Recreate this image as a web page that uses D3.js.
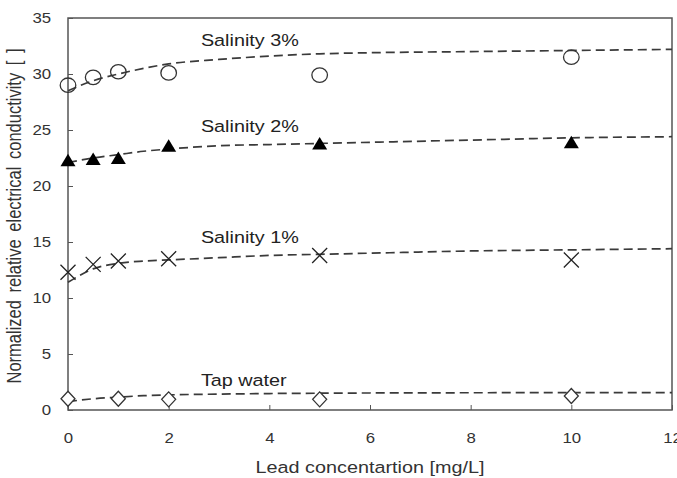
<!DOCTYPE html>
<html>
<head>
<meta charset="utf-8">
<title>Lead concentration</title>
<script src="https://cdn.jsdelivr.net/npm/d3@7"></script>
<style>
  body { margin: 0; background: #fff; }
  svg text { font-family: "Liberation Sans", Arial, sans-serif; }
</style>
</head>
<body>
<div id="chart"></div>
<script>
// measured points
var leadX = [0, 0.5, 1, 2, 5, 10];
var sal3 = [29.0, 29.7, 30.2, 30.1, 29.9, 31.5];
var sal2 = [22.3, 22.4, 22.5, 23.6, 23.8, 23.9];
var sal1 = [12.3, 13.0, 13.3, 13.5, 13.8, 13.4];
var tapX = [0, 1, 2, 5, 10];
var tap = [1.0, 1.0, 0.95, 0.95, 1.25];

// fitted curves
var fitX = [0, 0.5, 1, 1.5, 2, 3, 4, 5, 6, 8, 10, 12];
var fit3 = [28.5, 29.4, 30.0, 30.5, 30.9, 31.3, 31.6, 31.8, 31.9, 32.0, 32.1, 32.2];
var fit2 = [22.1, 22.5, 22.8, 23.1, 23.3, 23.6, 23.7, 23.8, 23.9, 24.1, 24.3, 24.4];
var fit1 = [11.4, 12.6, 13.1, 13.3, 13.4, 13.6, 13.8, 13.9, 14.0, 14.2, 14.3, 14.4];
var fitTap = [0.75, 1.0, 1.15, 1.28, 1.35, 1.42, 1.47, 1.5, 1.52, 1.54, 1.55, 1.56];

var xTicks = [0, 2, 4, 6, 8, 10, 12];
var yTicks = [0, 5, 10, 15, 20, 25, 30, 35];

var labels = [
  {text: "Salinity 3%", x: 2.64, y: 32.5},
  {text: "Salinity 2%", x: 2.64, y: 24.85},
  {text: "Salinity 1%", x: 2.64, y: 14.9},
  {text: "Tap water", x: 2.64, y: 2.1}
];

var W = 677, H = 478;
var m = {left: 68, right: 5, top: 18, bottom: 68};
var sx = 1.2; // the picture is stretched sideways

var svg = d3.select('#chart').append('svg').attr('width', W).attr('height', H);

var x = d3.scaleLinear().domain([0, 12]).range([m.left, W - m.right]);
var y = d3.scaleLinear().domain([0, 35]).range([H - m.bottom, m.top]);

// axes with inward ticks
svg.append('g').attr('transform', 'translate(0,' + (H - m.bottom) + ')')
  .call(d3.axisBottom(x).tickValues(xTicks).tickSizeInner(-5).tickSizeOuter(0).tickPadding(23))
  .call(function(g){
    g.select('.domain').remove();
    g.selectAll('line').attr('stroke', '#555');
    g.selectAll('text').attr('font-size', 14).attr('fill', '#333')
      .attr('transform', 'scale(' + sx + ',1)');
  });
svg.append('g').attr('transform', 'translate(' + m.left + ',0)')
  .call(d3.axisLeft(y).tickValues(yTicks).tickSizeInner(-5).tickSizeOuter(0).tickPadding(14))
  .call(function(g){
    g.select('.domain').remove();
    g.selectAll('line').attr('stroke', '#555');
    g.selectAll('text').attr('font-size', 14).attr('fill', '#333')
      .attr('transform', 'scale(' + sx + ',1)');
  });

svg.append('rect')
  .attr('x', m.left).attr('y', m.top)
  .attr('width', W - m.right - m.left).attr('height', H - m.bottom - m.top)
  .attr('fill', 'none').attr('stroke', '#555').attr('stroke-width', 1.5);

// fitted dashed lines
var line = d3.line().curve(d3.curveMonotoneX)
  .x(function(d){ return x(d[0]); }).y(function(d){ return y(d[1]); });
[fit3, fit2, fit1, fitTap].forEach(function(f){
  svg.append('path')
    .datum(fitX.map(function(v, i){ return [v, f[i]]; }))
    .attr('d', line)
    .attr('fill', 'none').attr('stroke', '#3a3a3a').attr('stroke-width', 1.7)
    .attr('stroke-dasharray', '9,5');
});

function pts(xs, ys){ return xs.map(function(v, i){ return [v, ys[i]]; }); }
function at(d){ return 'translate(' + x(d[0]) + ',' + y(d[1]) + ')'; }

// salinity 3%: open circles
svg.selectAll('.c3').data(pts(leadX, sal3)).enter().append('ellipse')
  .attr('cx', function(d){ return x(d[0]); }).attr('cy', function(d){ return y(d[1]); })
  .attr('rx', 7.8).attr('ry', 7.2).attr('fill', 'none').attr('stroke', '#333').attr('stroke-width', 1.3);

// salinity 2%: filled triangles
svg.selectAll('.t2').data(pts(leadX, sal2)).enter().append('path')
  .attr('d', 'M0,-6.5L7.5,6L-7.5,6Z')
  .attr('transform', at)
  .attr('fill', '#000');

// salinity 1%: crosses
svg.selectAll('.x1').data(pts(leadX, sal1)).enter().append('path')
  .attr('d', 'M-7.5,-7.5L7.5,7.5M-7.5,7.5L7.5,-7.5')
  .attr('transform', at)
  .attr('stroke', '#222').attr('stroke-width', 1.3).attr('fill', 'none');

// tap water: open diamonds
svg.selectAll('.d0').data(pts(tapX, tap)).enter().append('path')
  .attr('d', 'M0,-7.5L7,0L0,7.5L-7,0Z')
  .attr('transform', at)
  .attr('fill', '#fff').attr('stroke', '#333').attr('stroke-width', 1.3);

// series labels
svg.selectAll('.lab').data(labels).enter().append('text')
  .attr('transform', function(d){ return 'translate(' + x(d.x) + ',' + y(d.y) + ') scale(' + sx + ',1)'; })
  .attr('font-size', 16.5).attr('fill', '#222')
  .text(function(d){ return d.text; });

// axis titles
svg.append('text')
  .attr('transform', 'translate(' + ((m.left + W - m.right) / 2) + ',473) scale(' + sx + ',1)')
  .attr('text-anchor', 'middle').attr('font-size', 16.5).attr('fill', '#333')
  .text('Lead concentartion [mg/L]');
svg.append('text')
  .attr('transform', 'translate(21,' + ((m.top + H - m.bottom) / 2 + 2) + ') scale(' + sx + ',1) rotate(-90)')
  .attr('text-anchor', 'middle').attr('font-size', 16.5).attr('fill', '#333')
  .attr('word-spacing', 3)
  .text('Normalized relative electrical conductivity [ ]');
</script>
</body>
</html>
